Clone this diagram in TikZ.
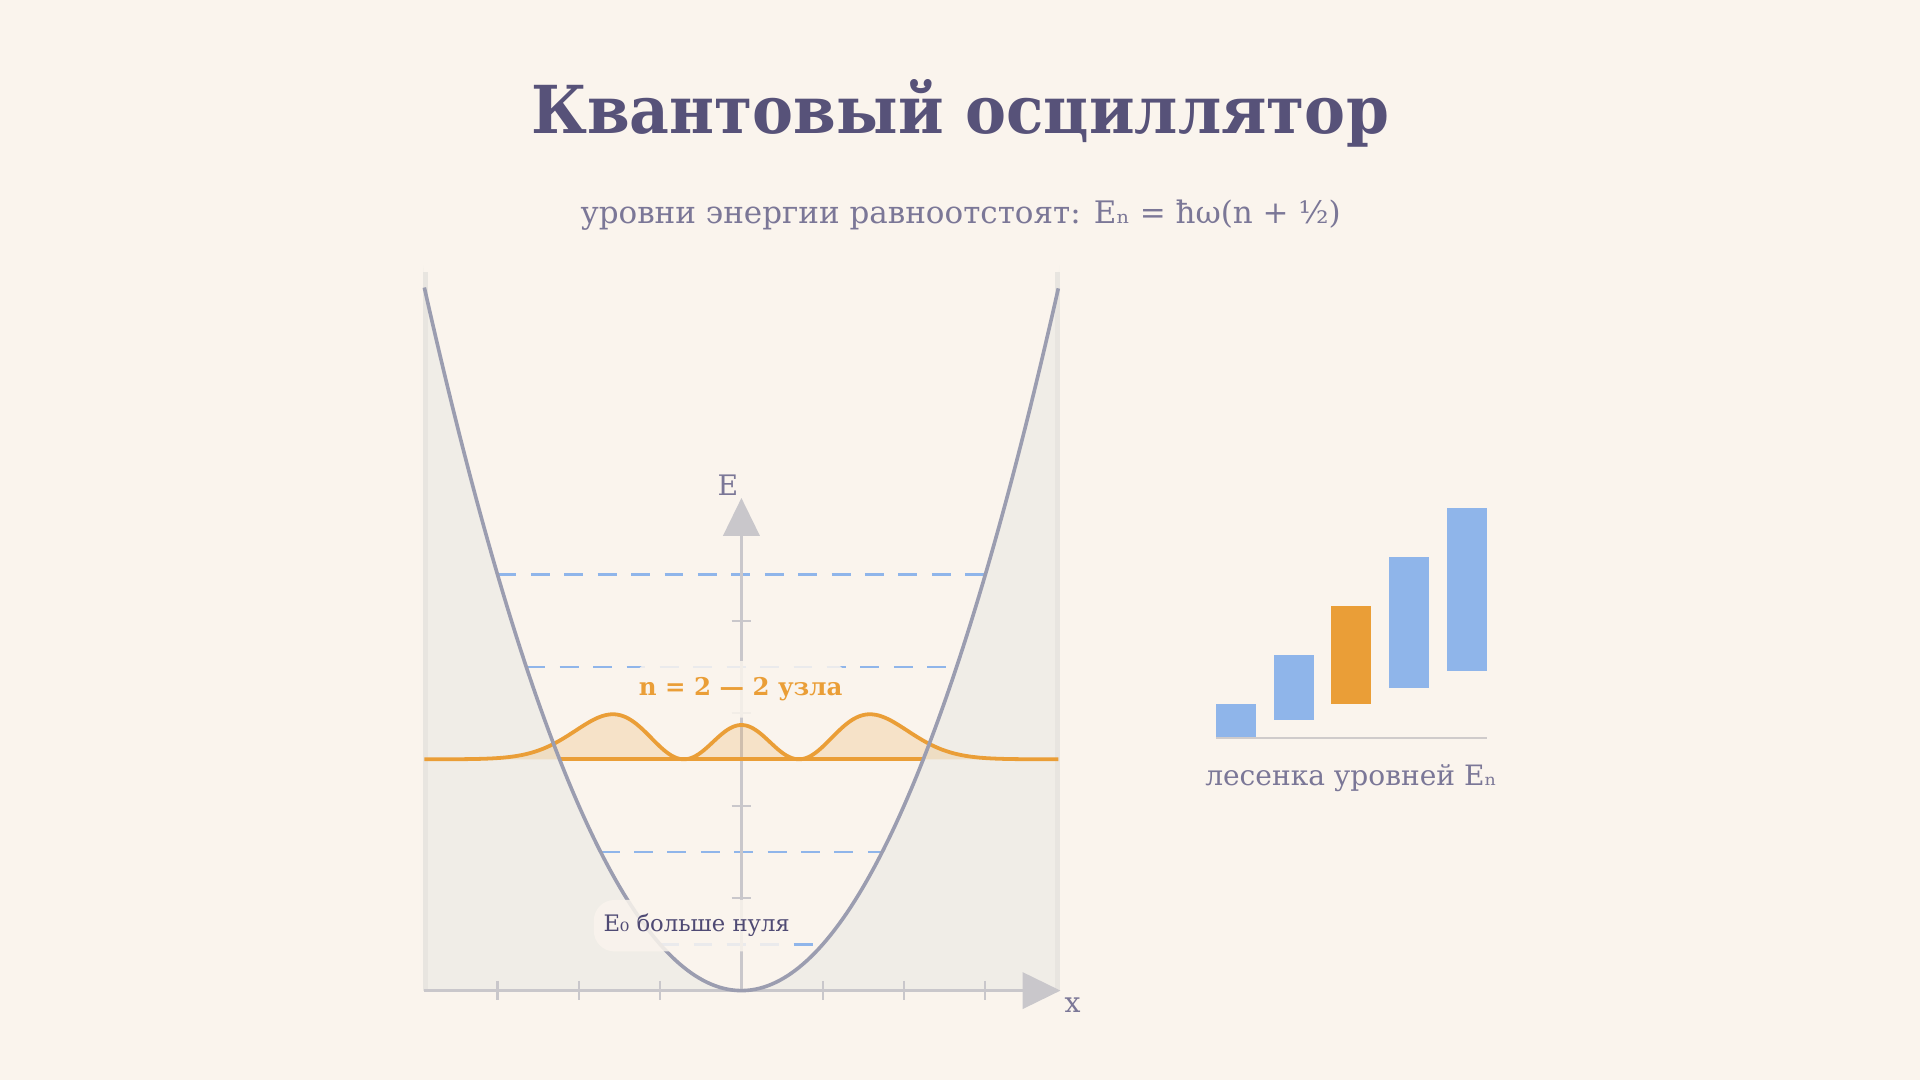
\documentclass[tikz,border=0pt]{standalone}
\usepackage{fontspec}
\setmainfont{DejaVu Serif}
\newfontfamily\titlefont[FakeStretch=0.93]{DejaVu Serif}
\usetikzlibrary{arrows.meta}
\definecolor{bg}{HTML}{FAF4ED}
\definecolor{panel}{HTML}{F0EDE7}
\definecolor{paneledge}{HTML}{E8E5E0}
\definecolor{parab}{HTML}{9B9DB0}
\definecolor{axisc}{HTML}{C9C7CB}
\definecolor{lvlblue}{HTML}{8FB5EA}
\definecolor{orng}{HTML}{EA9E37}
\definecolor{titlec}{HTML}{575279}
\definecolor{subc}{HTML}{7B7797}
\definecolor{darklbl}{HTML}{4F4A74}
\definecolor{basec}{HTML}{CFCBCB}
\tikzset{
  axisline/.style={draw=axisc, line width=0.65pt},
  tickmark/.style={draw=axisc, line width=0.65pt},
  lvl/.style={draw=lvlblue, line width=0.8pt, dash pattern=on 5.5pt off 4.2pt},
  parabola/.style={draw=parab, line width=1.05pt},
  wave/.style={draw=orng, line width=1.1pt},
  wavefill/.style={fill=orng, fill opacity=0.2},
  bluebar/.style={fill=lvlblue},
  orangebar/.style={fill=orng},
  glowbox/.style={fill=bg, fill opacity=0.85, text opacity=1, rounded corners=6pt},
  tip/.style={-{Triangle[length=11pt,width=10.6pt,fill=axisc]}},
  declare function={psi(\t)=(4*\t*\t-2)*exp(-0.5*\t*\t);},
}
\begin{document}
\begin{tikzpicture}[x=0.0125cm,y=-0.0125cm]
\fill[bg] (0,0) rectangle (1568,882);
\useasboundingbox (0,0) rectangle (1568,882);
% forbidden region
\fill[panel] (346,809) -- (346,217) -- plot[domain=-3.9:3.9,samples=160] ({605.5+66.4*\x},{809-37.75*\x*\x}) -- (865,217) -- (865,809) -- cycle;
\draw[draw=paneledge, line width=1.3pt] (347.5,809) -- (347.5,222);
\draw[draw=paneledge, line width=1.3pt] (863.5,809) -- (863.5,222);
% energy levels
\foreach \n in {0,1,3,4} {
  \pgfmathsetmacro\w{66.4*sqrt(2*\n+1)}
  \pgfmathsetmacro\yy{809-75.5*(\n+0.5)}
  \draw[lvl] (605.5-\w,\yy) -- (605.5+\w,\yy);
}
% axes
\coordinate (xo) at (346,809);
\coordinate (xe) at (866,809);
\coordinate (yo) at (605.5,809);
\coordinate (ye) at (605.5,406.7);
\draw[axisline,tip] (xo) -- (xe);
\draw[axisline,tip] (yo) -- (ye);
\foreach \u in {-3,-2,-1,1,2,3} \draw[tickmark] ({605.5+66.4*\u},801) -- ({605.5+66.4*\u},817);
\foreach \e in {1,2,3,4} \draw[tickmark] (597.5,{809-75.5*\e}) -- (613.5,{809-75.5*\e});
% wavefunction n=2
\fill[wavefill] plot[domain=-3.9:3.9,samples=300] ({605.5+66.4*\x},{620.1-7*psi(\x)*psi(\x)}) -- cycle;
\draw[wave] plot[domain=-3.9:3.9,samples=300] ({605.5+66.4*\x},{620.1-7*psi(\x)*psi(\x)});
\draw[wave] (457,620.1) -- (754,620.1);
% potential
\draw[parabola] plot[domain=-3.9:3.9,samples=160] ({605.5+66.4*\x},{809-37.75*\x*\x});
% labels
\node[anchor=base, text=titlec, font=\titlefont\fontsize{19.2}{23}\selectfont\bfseries] (title) at (784,108.9) {Квантовый осциллятор};
\node[anchor=base, text=subc, font=\fontsize{9}{11}\selectfont] (sub) at (784.5,182.4) {уровни энергии равноотстоят: Eₙ = ħω(n + ½)};
\node[anchor=base, text=subc, font=\fontsize{8.2}{10}\selectfont] (elbl) at (594.4,404.8) {E};
\node[anchor=base, text=subc, font=\fontsize{8.2}{10}\selectfont] (xlbl) at (876,826.7) {x};
\node[glowbox, minimum width=2.175cm, minimum height=0.575cm] (n2box) at (605,563) {};
\node[anchor=base, text=orng, font=\fontsize{7.1}{9}\selectfont\bfseries] (n2) at (604.8,568.4) {n = 2 — 2 узла};
\node[glowbox, minimum width=2.05cm, minimum height=0.525cm] (e0box) at (567,756) {};
\node[anchor=base, text=darklbl, font=\fontsize{6.6}{8}\selectfont] (e0) at (569,760.8) {E₀ больше нуля};
% ladder
\foreach \k in {0,1,3,4} {
  \fill[bluebar] ({993+47.1*\k},{575-40*\k}) rectangle ({1025.8+47.1*\k},{601.7-13.35*\k});
}
\fill[orangebar] ({993+47.1*2},{575-80}) rectangle ({1025.8+47.1*2},{601.7-26.7});
\coordinate (lb1) at (993,603);
\coordinate (lb2) at (1214,603);
\draw[draw=basec, line width=0.65pt] (lb1) -- (lb2);
\node[anchor=base, text=subc, font=\fontsize{8.15}{10}\selectfont] (ladlbl) at (1103.3,641.9) {лесенка уровней Eₙ};
\end{tikzpicture}
\end{document}
